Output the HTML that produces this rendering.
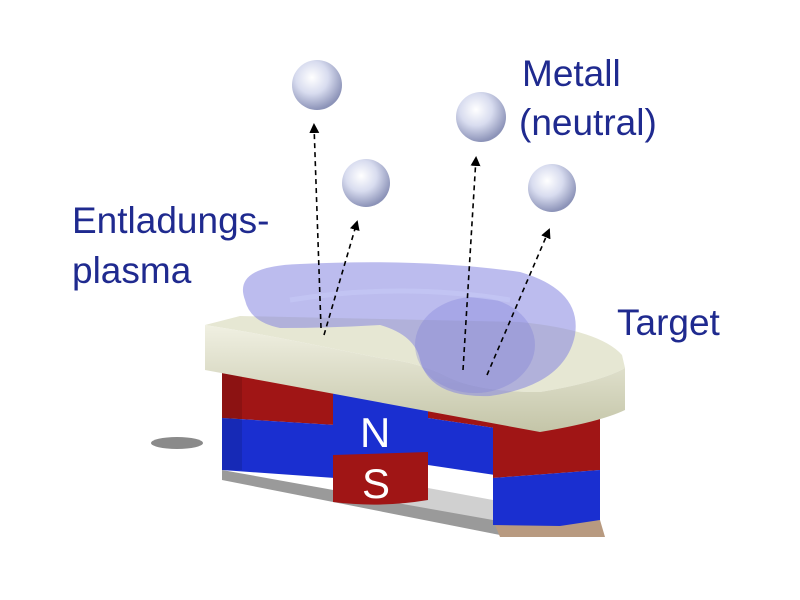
<!DOCTYPE html>
<html><head><style>
html,body{margin:0;padding:0;background:#fff;width:800px;height:600px;overflow:hidden}
svg{display:block}
text{font-family:"Liberation Sans",sans-serif;font-size:37px;fill:#1f2a8f}
</style></head><body>
<svg width="800" height="600" viewBox="0 0 800 600">
<defs>
<radialGradient id="sph" cx="40%" cy="35%" r="65%">
<stop offset="0" stop-color="#ffffff"/><stop offset="0.5" stop-color="#d8dcef"/><stop offset="1" stop-color="#8c93b8"/>
</radialGradient>
<linearGradient id="front" x1="0" y1="0" x2="0" y2="1">
<stop offset="0" stop-color="#f0f0e2"/><stop offset="1" stop-color="#c4c5a8"/>
</linearGradient>
<marker id="ah" markerWidth="10" markerHeight="10" refX="8" refY="5" orient="auto" markerUnits="userSpaceOnUse">
<path d="M0,0 L10,5 L0,10 z" fill="#000"/>
</marker>
</defs>
<!-- shadows -->
<ellipse cx="177" cy="443" rx="26" ry="6" fill="#8a8a8a"/>
<polygon points="222,470 500,520 500,535 222,480" fill="#9a9a9a"/>
<polygon points="335,478 428,488 493,500 493,520 335,492" fill="#d0d0d0"/>
<polygon points="495,525 600,520 605,537 500,537" fill="#b89a80"/>
<!-- left magnet -->
<polygon points="222,370 335,378 335,425 222,418" fill="#a01515"/>
<polygon points="222,418 335,425 335,478 222,470" fill="#1a2fd0"/>
<rect x="222" y="370" width="20" height="100" fill="#000" opacity="0.12"/>
<!-- right-middle -->
<polygon points="428,405 495,418 495,428 428,418" fill="#a01515"/>
<polygon points="428,418 495,428 495,475 428,465" fill="#1a2fd0"/>
<!-- right magnet -->
<polygon points="493,418 600,415 600,470 493,478" fill="#a01515"/>
<polygon points="493,478 600,470 600,520 560,526 493,525" fill="#1a2fd0"/>
<!-- center N/S -->
<rect x="333" y="393" width="95" height="62" fill="#1a2fd0"/>
<path d="M333,455 L428,452 L428,500 Q380,508 333,502 z" fill="#a01515"/>
<text x="360" y="447" style="fill:#fff;font-size:42px">N</text>
<text x="362" y="498" style="fill:#fff;font-size:42px">S</text>
<!-- plate top face -->
<path d="M205,325 L240,316 L520,322 Q600,330 622,355 L625,368 Q600,382 540,392 Q480,392 450,378 Q420,362 380,358 Q340,350 300,342 Q250,332 205,325 z" fill="#e6e7d3"/>
<!-- plate front face -->
<path d="M205,325 Q250,332 300,342 Q340,350 380,358 Q420,362 450,378 Q480,392 540,392 Q600,382 625,368 L625,410 Q600,422 540,432 L205,370 z" fill="url(#front)"/>
<!-- plasma -->
<path d="M245,300 Q232,266 300,264 Q420,258 520,272 Q582,290 575,335 Q565,385 490,396 Q430,398 420,360 Q415,335 380,325 Q330,328 280,328 Q250,322 245,300 z" fill="#8585e0" opacity="0.55"/>
<ellipse cx="475" cy="345" rx="60" ry="48" fill="#7777d8" opacity="0.3"/>
<path d="M290,300 Q400,282 510,300" stroke="#c5c8f5" stroke-width="5" fill="none" opacity="0.7"/>
<!-- spheres -->
<circle cx="317" cy="85" r="25" fill="url(#sph)"/>
<circle cx="366" cy="183" r="24" fill="url(#sph)"/>
<circle cx="481" cy="117" r="25" fill="url(#sph)"/>
<circle cx="552" cy="188" r="24" fill="url(#sph)"/>
<!-- arrows -->
<g stroke="#000" stroke-width="1.6" stroke-dasharray="5,4" fill="none" marker-end="url(#ah)">
<line x1="321" y1="328" x2="314" y2="125"/>
<line x1="324" y1="335" x2="357" y2="222"/>
<line x1="463" y1="370" x2="476" y2="158"/>
<line x1="487" y1="375" x2="549" y2="230"/>
</g>
<!-- labels -->
<text x="522" y="86">Metall</text>
<text x="519" y="135">(neutral)</text>
<text x="72" y="233">Entladungs-</text>
<text x="72" y="283">plasma</text>
<text x="617" y="335">Target</text>
</svg>
</body></html>
